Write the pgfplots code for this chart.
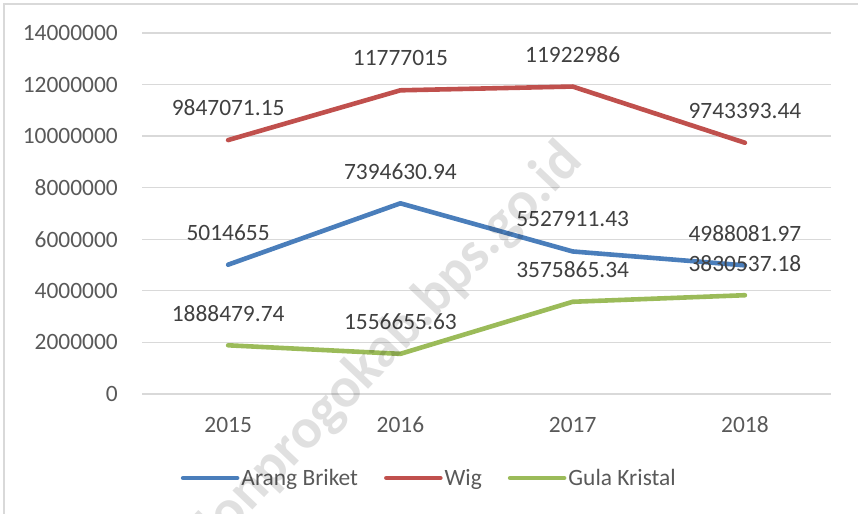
\documentclass[border=0pt]{standalone}
\usepackage{fontspec}
\setmainfont{Carlito}
\usepackage{pgfplots}
\pgfplotsset{compat=1.18}
\definecolor{cBlue}{HTML}{4A7EBB}
\definecolor{cRed}{HTML}{C0504D}
\definecolor{cGreen}{HTML}{9BBB59}
\definecolor{cGrid}{HTML}{D9D9D9}
\definecolor{cTick}{HTML}{595959}
\definecolor{cLab}{HTML}{404040}
\begin{document}
\begin{tikzpicture}[x=1bp,y=1bp]
\useasboundingbox (0,0) rectangle (858,514);
\draw[cGrid, line width=1.2bp] (4,0) -- (4,510) -- (858,510);
\begin{axis}[
  at={(142bp,120bp)}, anchor=south west,
  scale only axis, width=689bp, height=361bp,
  xmin=-0.5, xmax=3.5, ymin=0, ymax=14000000,
  axis line style={draw=none},
  major tick length=0pt,
  xtick={0,1,2,3}, xticklabels={2015,2016,2017,2018},
  ytick={0,2000000,4000000,6000000,8000000,10000000,12000000,14000000},
  scaled y ticks=false,
  /pgf/number format/assume math mode=true,
  yticklabel={\pgfmathprintnumber[fixed,precision=0,1000 sep={}]{\tick}},
  ymajorgrids, grid style={cGrid, line width=1.3bp},
  tick label style={font=\fontsize{23.5}{28}\selectfont, text=cTick, inner sep=0pt},
  yticklabel style={anchor=east, xshift=-24bp},
  xticklabel style={anchor=center, yshift=-31bp},
  nodes near coords={\pgfplotspointmeta},
  point meta=explicit symbolic,
  every node near coord/.append style={font=\fontsize{23.5}{28}\selectfont, text=cLab, anchor=center, inner sep=0pt, yshift=32bp},
  legend style={draw=none, fill=none, at={(0.417,-0.2327)}, anchor=center,
    legend columns=3, font=\fontsize{23.5}{28}\selectfont, text=cTick,
    /tikz/every even column/.append style={column sep=24bp},
    nodes={inner sep=2bp}},
  legend image code/.code={\draw[#1, line cap=round] (0bp,0bp) -- (54bp,0bp);},
  every axis plot/.append style={line width=4.6bp, line cap=round, line join=round, mark=none},
  clip=false,
]
\addplot[cBlue] coordinates {(0,5014655)[5014655] (1,7394630.94)[7394630.94] (2,5527911.43)[5527911.43] (3,4988081.97)[4988081.97]};
\addlegendentry{Arang Briket}
\addplot[cRed] coordinates {(0,9847071.15)[9847071.15] (1,11777015)[11777015] (2,11922986)[11922986] (3,9743393.44)[9743393.44]};
\addlegendentry{Wig}
\addplot[cGreen] coordinates {(0,1888479.74)[1888479.74] (1,1556655.63)[1556655.63] (2,3575865.34)[3575865.34] (3,3830537.18)[3830537.18]};
\addlegendentry{Gula Kristal}
\end{axis}
\begin{scope}
\clip (0,0) rectangle (858,514);
\node[rotate=46.5, anchor=base east, inner sep=0pt, text=black, opacity=0.12, font=\fontsize{57}{62}\selectfont\bfseries] at (584,352) {kulonprogokab.bps.go.id};
\end{scope}
\end{tikzpicture}
\end{document}
